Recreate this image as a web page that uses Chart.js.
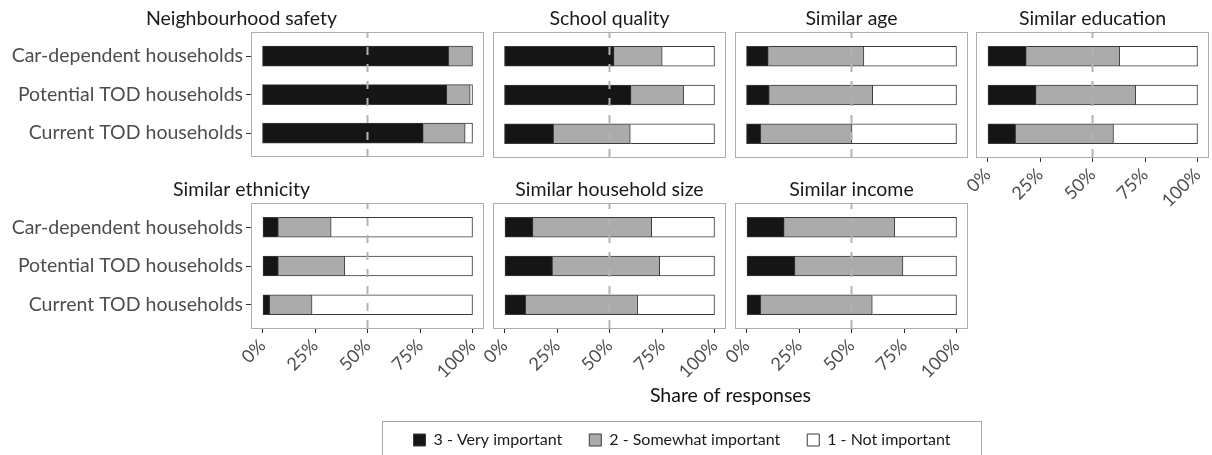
<!DOCTYPE html>
<html lang="en">
<head>
<meta charset="utf-8">
<title>Importance of neighbourhood attributes</title>
<script src="https://cdn.jsdelivr.net/npm/chart.js@4.4.1/dist/chart.umd.min.js"></script>
<style>
  html, body { margin: 0; padding: 0; background: #fff; }
  body { position: relative; width: 1212px; height: 455px; overflow: hidden; }
  canvas { position: absolute; }
</style>
</head>
<body>
<script>
// facets in reading order (left to right, top to bottom)
const facets = ['Neighbourhood safety', 'School quality', 'Similar age', 'Similar education',
  'Similar ethnicity', 'Similar household size', 'Similar income'];
const groups = ['Car-dependent households', 'Potential TOD households', 'Current TOD households'];
const levels = ['3 - Very important', '2 - Somewhat important', '1 - Not important'];

// share of responses (%), one row per facet, values in the order of groups
const veryImportant = [
  [88.7, 87.8, 76.6],
  [52.2, 60.3, 23.4],
  [10.4, 10.9, 6.8],
  [18.5, 23.2, 13.4],
  [7.6, 7.6, 3.5],
  [13.6, 22.9, 10.1],
  [18.0, 23.1, 6.8],
];
const somewhatImportant = [
  [11.3, 11.1, 19.9],
  [22.9, 25.0, 36.5],
  [45.5, 49.2, 43.4],
  [44.5, 47.4, 46.6],
  [25.1, 31.6, 20.1],
  [56.5, 51.0, 53.4],
  [52.6, 51.4, 53.1],
];
const notImportant = [
  [0.0, 1.1, 3.5],
  [24.9, 14.7, 40.1],
  [44.1, 39.9, 49.8],
  [37.0, 29.4, 40.0],
  [67.3, 60.8, 76.4],
  [29.9, 26.1, 36.5],
  [29.4, 25.5, 40.1],
];
const xTicks = [0, 25, 50, 75, 100];
const referenceLine = 50;

const series = [veryImportant, somewhatImportant, notImportant];
const fills = ['#151515', '#ababab', '#ffffff'];

Chart.defaults.font.family = "Lato, 'Open Sans', sans-serif";
Chart.defaults.animation = false;

// panel boxes on the page
const PANEL_W = 231, PANEL_H = 124, STRIP_H = 33, AXIS_H = 50, PAD = 20, LABEL_W = 252;
const spots = [
  { left: 252, top: 33, yAxis: true, xAxis: false },
  { left: 494, top: 33, yAxis: false, xAxis: false },
  { left: 736, top: 33, yAxis: false, xAxis: false },
  { left: 977, top: 33, yAxis: false, xAxis: true },
  { left: 252, top: 204, yAxis: true, xAxis: true },
  { left: 494, top: 204, yAxis: false, xAxis: true },
  { left: 736, top: 204, yAxis: false, xAxis: true },
];

const panelDecor = {
  id: 'panelDecor',
  afterDatasetsDraw(chart) {
    const { ctx, chartArea: a } = chart;
    const x = chart.scales.x.getPixelForValue(referenceLine);
    ctx.save();
    ctx.strokeStyle = '#b3b3b3';
    ctx.lineWidth = 2;
    ctx.setLineDash([8, 9]);
    ctx.lineDashOffset = 3;
    ctx.beginPath();
    ctx.moveTo(x, a.top);
    ctx.lineTo(x, a.bottom);
    ctx.stroke();
    ctx.setLineDash([]);
    ctx.lineWidth = 1;
    ctx.strokeStyle = '#adadad';
    ctx.strokeRect(Math.round(a.left) - 0.5, Math.round(a.top) - 0.5,
      Math.round(a.right - a.left) + 1, Math.round(a.bottom - a.top) + 1);
    ctx.restore();
  }
};

function makePanel(p) {
  const spot = spots[p];
  const padLeft = spot.yAxis ? 0 : PAD;
  const padRight = spot.yAxis ? LABEL_W : PAD;
  const yWidth = spot.yAxis ? LABEL_W : 0;
  const canvas = document.createElement('canvas');
  canvas.width = padLeft + yWidth + PANEL_W + padRight;
  canvas.height = STRIP_H + PANEL_H + (spot.xAxis ? AXIS_H : 0) + 14;
  canvas.style.left = (spot.left - padLeft - yWidth) + 'px';
  canvas.style.top = (spot.top - STRIP_H) + 'px';
  document.body.appendChild(canvas);

  return new Chart(canvas, {
    type: 'bar',
    data: {
      datasets: levels.map((level, k) => ({
        label: level,
        data: groups.map((g, i) => ({ x: series[k][p][i], y: i + 1 })),
        backgroundColor: fills[k],
        borderColor: '#3a3a3a',
        borderWidth: { top: 1, bottom: 1, left: k === 0 ? 1 : 0, right: 1 },
        borderSkipped: false,
        barThickness: 20,
      })),
    },
    options: {
      responsive: false,
      indexAxis: 'y',
      layout: { padding: { left: padLeft, right: padRight, top: 0, bottom: 14 } },
      plugins: {
        legend: { display: false },
        tooltip: { enabled: false },
        title: {
          display: true,
          text: facets[p],
          color: '#1a1a1a',
          font: { size: 19.5, weight: 'normal', lineHeight: 1 },
          padding: { top: 9, bottom: 4.5 },
        },
      },
      scales: {
        x: {
          type: 'linear', min: -5, max: 105, stacked: true,
          display: spot.xAxis,
          afterBuildTicks: (s) => { s.ticks = xTicks.map((v) => ({ value: v })); },
          afterFit: (s) => { if (spot.xAxis) s.height = AXIS_H; },
          border: { display: false },
          grid: { drawOnChartArea: false, tickLength: 5, color: '#333333' },
          ticks: {
            autoSkip: false, minRotation: 45, maxRotation: 45, padding: 2,
            color: '#4d4d4d', font: { size: 18 },
            callback: (v) => v + '%',
          },
        },
        y: {
          type: 'linear', min: 0.4, max: 3.6, reverse: true, stacked: true, offset: false,
          display: spot.yAxis,
          afterBuildTicks: (s) => { s.ticks = groups.map((g, i) => ({ value: i + 1 })); },
          afterFit: (s) => { if (spot.yAxis) s.width = LABEL_W; },
          border: { display: false },
          grid: { drawOnChartArea: false, offset: false, tickLength: 6, color: '#333333' },
          ticks: {
            padding: 3, color: '#4d4d4d', font: { size: 19.5 },
            callback: (v) => groups[v - 1],
          },
        },
      },
    },
    plugins: [panelDecor],
  });
}

facets.forEach((f, p) => makePanel(p));

// shared x axis title, centred under the panel columns
const titleCanvas = document.createElement('canvas');
titleCanvas.width = 957; titleCanvas.height = 40;
titleCanvas.style.left = '252px'; titleCanvas.style.top = '370px';
document.body.appendChild(titleCanvas);
new Chart(titleCanvas, {
  type: 'bar',
  data: { datasets: [] },
  options: {
    responsive: false,
    plugins: {
      legend: { display: false },
      tooltip: { enabled: false },
      title: {
        display: true, text: 'Share of responses', color: '#111111',
        font: { size: 19.5, weight: 'normal', lineHeight: 1 },
        padding: { top: 16, bottom: 0 },
      },
    },
    scales: { x: { display: false }, y: { display: false } },
  },
});

// legend with a grey frame
const legendFrame = {
  id: 'legendFrame',
  afterDraw(chart) {
    const { ctx, width } = chart;
    ctx.save();
    ctx.strokeStyle = '#a6a6a6';
    ctx.lineWidth = 1;
    ctx.strokeRect(0.5, 16.5, width - 1, 100);
    ctx.restore();
  }
};
const keyCanvas = document.createElement('canvas');
keyCanvas.width = 600; keyCanvas.height = 200;
keyCanvas.style.left = '382px'; keyCanvas.style.top = '405px';
document.body.appendChild(keyCanvas);
new Chart(keyCanvas, {
  type: 'bar',
  data: {
    datasets: levels.map((level, k) => ({
      label: level, data: [], backgroundColor: fills[k], borderColor: '#3a3a3a', borderWidth: 1,
    })),
  },
  options: {
    responsive: false,
    plugins: {
      tooltip: { enabled: false },
      legend: {
        display: true, position: 'top',
        labels: { boxWidth: 12, boxHeight: 12, padding: 27, color: '#1a1a1a', font: { size: 16 } },
      },
    },
    scales: { x: { display: false }, y: { display: false } },
  },
  plugins: [legendFrame],
});
</script>
</body>
</html>
